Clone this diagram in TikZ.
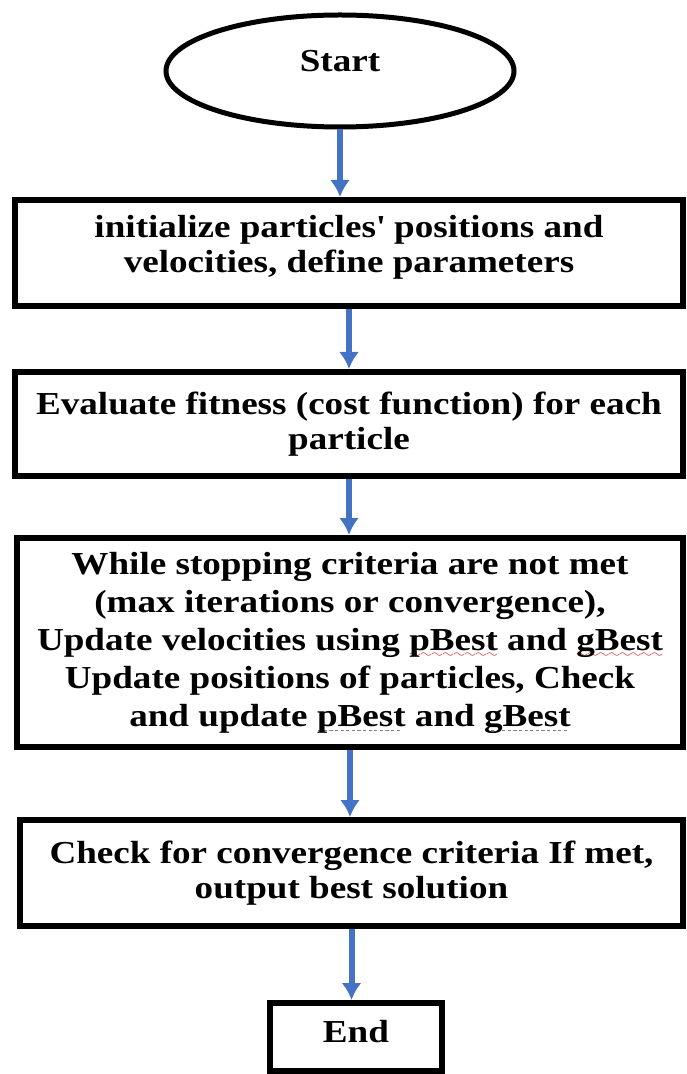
\documentclass[tikz,border=0pt]{standalone}
\usepackage{fontspec}
\setmainfont{Liberation Serif}[FakeStretch=1.16]
\usetikzlibrary{arrows.meta}
\usetikzlibrary{shapes.geometric}
\definecolor{flowblue}{HTML}{4472C4}
\definecolor{spellred}{HTML}{D02020}
\tikzstyle{stepbox}=[rectangle, draw, line width=3pt, inner sep=0pt, align=center, font=\bfseries\fontsize{16}{17.5}\selectfont]
\tikzstyle{flow}=[draw=flowblue, line width=3pt, -{Latex[length=8.5pt,width=10pt]}]
% spell-check marks under words
\font\wavefont=lasy6
\newcommand\spellwave[1]{\setbox0=\hbox{#1}\rlap{\lower3.5pt\hbox to\wd0{\color{spellred}\xleaders\hbox{\wavefont\char58}\hfil}}\box0\relax}
\newcommand\spelldots[1]{\setbox0=\hbox{#1}\rlap{\lower2.5pt\hbox to\wd0{\color{gray}\leaders\hbox{\kern0.6pt\rule{1.6pt}{0.5pt}\kern0.6pt}\hfil}}\box0\relax}

\begin{document}
\begin{tikzpicture}[x=0.5pt, y=-0.5pt]
\useasboundingbox (0,0) rectangle (686,1074);

\node[ellipse, draw, line width=2.5pt, inner sep=0pt, minimum width=174pt, minimum height=56pt, text depth=10pt, font=\bfseries\fontsize{16}{17.5}\selectfont] (start) at (340,71) {Start};

\node[stepbox, minimum width=334pt, minimum height=53pt, text depth=9pt] (init) at (349,253)
	{initialize particles\textquotesingle{} positions and\\ velocities, define parameters};
\node[stepbox, minimum width=334pt, minimum height=52pt] (eval) at (349,424)
	{Evaluate fitness (cost function) for each\\ particle};
\node[stepbox, minimum width=333pt, minimum height=104.5pt, font=\bfseries\fontsize{16}{19}\selectfont] (loop) at (350,642.5)
	{While stopping criteria are not met\\ (max iterations or convergence),\\ Update velocities using \spellwave{pBest} and \spellwave{gBest}\\ Update positions of particles, Check\\ and update \spelldots{pBest} and \spelldots{gBest}};
\node[stepbox, minimum width=331.5pt, minimum height=53pt] (check) at (351.5,873)
	{Check for convergence criteria If met,\\ output best solution};
\node[stepbox, minimum width=86pt, minimum height=34pt, text depth=6pt] (end) at (356,1037) {End};

\draw[flow] (start.south) -- (start.south |- init.north);
\draw[flow] (init.south) -- (eval.north);
\draw[flow] (eval.south) -- (eval.south |- loop.north);
\draw[flow] (loop.south) -- (loop.south |- check.north);
\draw[flow] (check.south) -- (check.south |- end.north);

\end{tikzpicture}
\end{document}
